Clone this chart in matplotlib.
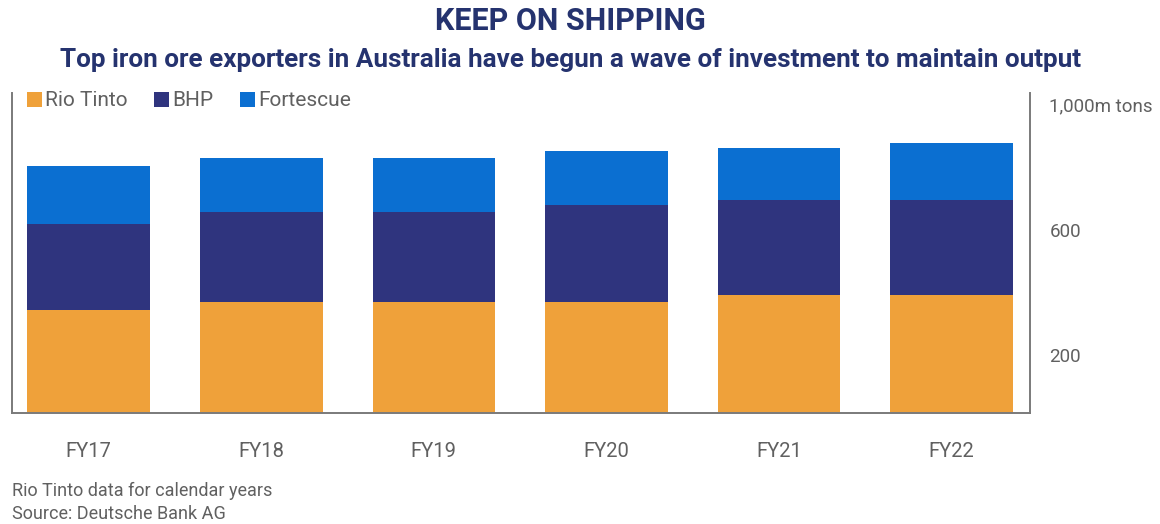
import matplotlib
matplotlib.use("Agg")
import matplotlib.pyplot as plt
import matplotlib.transforms as mtransforms
import numpy as np

categories = ["FY17", "FY18", "FY19", "FY20", "FY21", "FY22"]
rio_tinto = [329, 354, 356, 356, 377, 377]
bhp = [273, 286, 284, 308, 303, 303]
fortescue = [186, 175, 175, 173, 165, 181]
series_names = ["Rio Tinto", "BHP", "Fortescue"]
y_ticks = [200, 600, 1000]
y_ticklabels = ["200", "600", "1,000m tons"]

C_RIO = "#efa13a"
C_BHP = "#2f347e"
C_FMG = "#0b6fd1"
GRAY = "#606060"
NAVY = "#25336f"

plt.rcParams['font.family'] = ['Roboto', 'DejaVu Sans']

fig = plt.figure(figsize=(11.6, 5.24), dpi=100)
ax = fig.add_axes([12/1160, 1-413.3/524, (1030-12)/1160, (413.3-93)/524])

x = np.arange(len(categories))
w = 0.71
rio = np.array(rio_tinto); b = np.array(bhp); f = np.array(fortescue)
ax.bar(x, rio, w, color=C_RIO, label=series_names[0])
ax.bar(x, b, w, bottom=rio, color=C_BHP, label=series_names[1])
ax.bar(x, f, w, bottom=rio + b, color=C_FMG, label=series_names[2])

ax.set_xlim(-0.444, 5.454)
ax.set_ylim(0, 1020.7)

ax.spines["top"].set_visible(False)
for s in ["left", "right", "bottom"]:
    ax.spines[s].set_color("#7a7a7a")
    ax.spines[s].set_linewidth(1.4)

ax.yaxis.tick_right()
ax.set_yticks(y_ticks)
ax.set_yticklabels(y_ticklabels, fontsize=13.5, color=GRAY)
ax.tick_params(axis="y", length=0, pad=14)
off = mtransforms.ScaledTranslation(0, -4.5/100, fig.dpi_scale_trans)
for lab in ax.get_yticklabels():
    lab.set_transform(lab.get_transform() + off)

ax.set_xticks(x)
ax.set_xticklabels(categories, fontsize=14.5, color=GRAY)
ax.tick_params(axis="x", length=0, pad=21)

fig.text(0.4914, 1-21/524, "KEEP ON SHIPPING", ha="center", va="center",
         fontsize=22, fontweight="bold", color=NAVY)
fig.text(0.4922, 1-60/524, "Top iron ore exporters in Australia have begun a wave of investment to maintain output",
         ha="center", va="center", fontsize=18.8, fontweight="bold", color=NAVY)

handles, labels = ax.get_legend_handles_labels()
leg = fig.legend(handles, labels, loc="center left", bbox_to_anchor=(27/1160, 1-101/524),
                 ncol=3, frameon=False, fontsize=15, handlelength=0.7, handleheight=0.7,
                 handletextpad=0.15, columnspacing=1.3, borderaxespad=0, borderpad=0)
for t in leg.get_texts():
    t.set_color(GRAY)

fig.text(12/1160, 1-491/524, "Rio Tinto data for calendar years", ha="left", va="center",
         fontsize=13, color=GRAY)
fig.text(12/1160, 1-514/524, "Source: Deutsche Bank AG", ha="left", va="center",
         fontsize=13, color=GRAY)

fig.savefig("out.png", dpi=100, facecolor="white")
